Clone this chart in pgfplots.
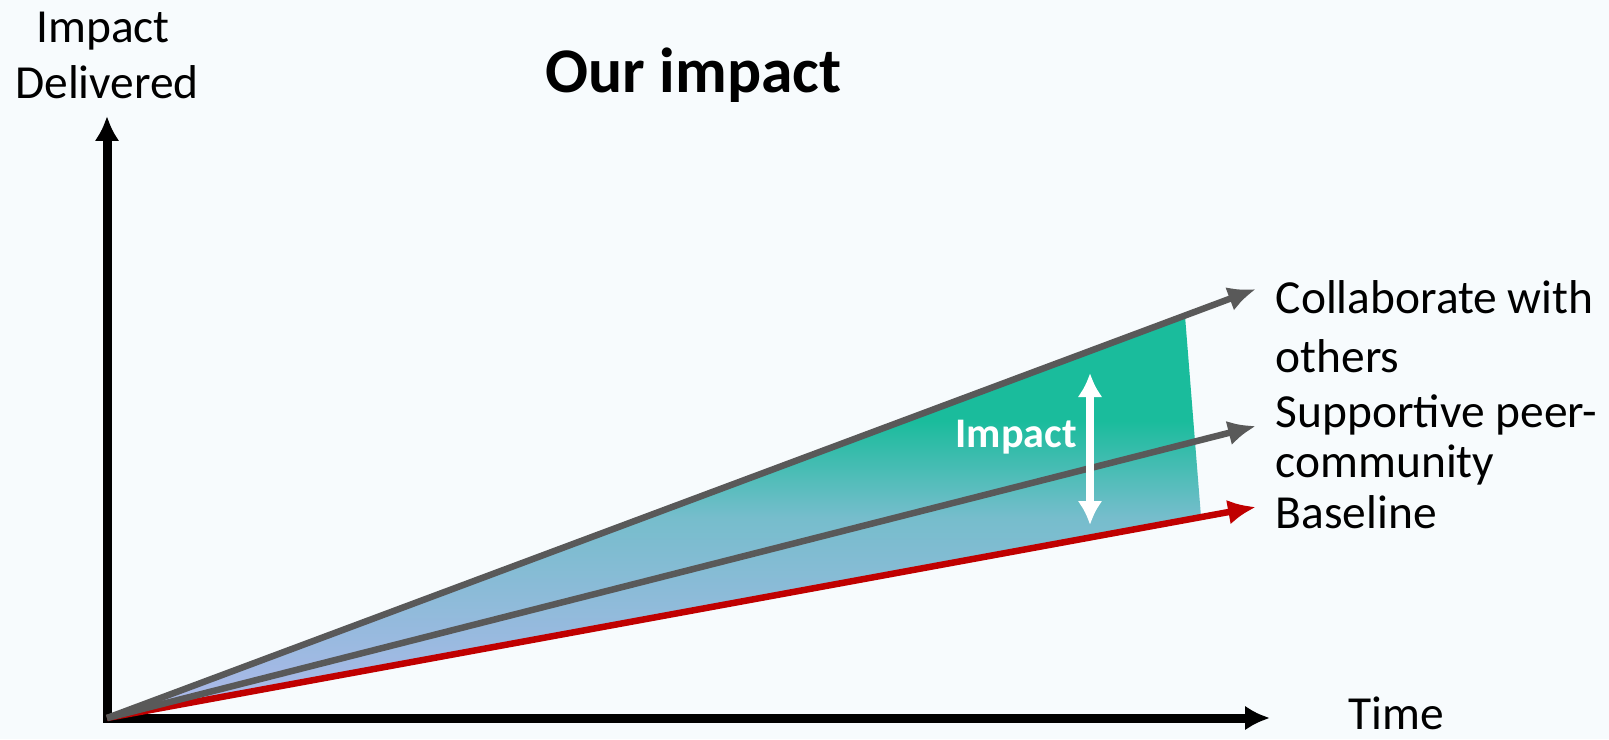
\documentclass[border=0pt]{standalone}
\usepackage{pgfplots}
\pgfplotsset{compat=1.18}
\usepackage{fontspec}
\setmainfont{Carlito}
\usetikzlibrary{arrows.meta}
\definecolor{bg}{HTML}{F7FBFD}
\definecolor{lgray}{HTML}{595959}
\definecolor{lred}{HTML}{C00000}
\definecolor{tgreen}{HTML}{1ABC9C}
\definecolor{tmid}{HTML}{76BDCC}
\definecolor{tlav}{HTML}{B0B8EC}
\pgfdeclareverticalshading{impactshade}{100bp}{color(0bp)=(tlav); color(25bp)=(tlav); color(50bp)=(tmid); color(62bp)=(tgreen); color(75bp)=(tgreen); color(100bp)=(tgreen)}
\begin{document}
\begin{tikzpicture}
\begin{axis}[width=16.09cm, height=7.39cm, scale only axis,
  xmin=0, xmax=1609, ymin=0, ymax=739, y dir=reverse,
  hide axis, clip=false]
% background
\addplot[fill=bg, draw=none] coordinates {(0,0) (1609,0) (1609,739) (0,739)} -- cycle;
% axes
\addplot[black, line width=0.09cm, -{Latex[length=0.25cm,width=0.25cm]}] coordinates {(107,722) (107,116)};
\addplot[black, line width=0.09cm, -{Latex[length=0.25cm,width=0.25cm]}] coordinates {(103,718) (1270,718)};
% shaded impact area
\addplot[draw=none, shading=impactshade] coordinates {(107,718) (1185,316) (1201,517)} -- cycle;
% lines
\addplot[lred, line width=0.065cm, -{Latex[length=0.28cm,width=0.25cm]}] coordinates {(107,718) (1256,507)};
\addplot[lgray, line width=0.065cm, -{Latex[length=0.28cm,width=0.25cm]}] coordinates {(107,718) (1256,426)};
\addplot[lgray, line width=0.065cm, -{Latex[length=0.28cm,width=0.25cm]}] coordinates {(107,718) (1256,289)};
% impact double arrow
\addplot[white, line width=0.08cm, {Latex[length=0.24cm,width=0.25cm]}-{Latex[length=0.24cm,width=0.25cm]}] coordinates {(1090,373) (1090,525)};
% texts
\node[anchor=base, inner sep=0pt, font=\fontsize{13.5pt}{15.9pt}\selectfont] at (axis cs:103,43) {Impact};
\node[anchor=base, inner sep=0pt, font=\fontsize{13.5pt}{15.9pt}\selectfont] at (axis cs:107,99) {Delivered};
\node[anchor=base west, inner sep=0pt, font=\fontsize{18.1pt}{20pt}\selectfont\bfseries] at (axis cs:545,93) {Our impact};
\node[anchor=base west, inner sep=0pt, text=white, font=\fontsize{12pt}{13pt}\selectfont\bfseries] at (axis cs:955,447) {Impact};
\node[anchor=base west, inner sep=0pt, font=\fontsize{13.5pt}{15.9pt}\selectfont] at (axis cs:1275,313) {Collaborate with};
\node[anchor=base west, inner sep=0pt, font=\fontsize{13.5pt}{15.9pt}\selectfont] at (axis cs:1275,372) {others};
\node[anchor=base west, inner sep=0pt, font=\fontsize{13.5pt}{15.9pt}\selectfont] at (axis cs:1275,427) {Supportive peer-};
\node[anchor=base west, inner sep=0pt, font=\fontsize{13.5pt}{15.9pt}\selectfont] at (axis cs:1275,477) {community};
\node[anchor=base west, inner sep=0pt, font=\fontsize{13.5pt}{15.9pt}\selectfont] at (axis cs:1275,528) {Baseline};
\node[anchor=base west, inner sep=0pt, font=\fontsize{13.5pt}{15.9pt}\selectfont] at (axis cs:1348,729) {Time};
\end{axis}
\end{tikzpicture}
\end{document}
